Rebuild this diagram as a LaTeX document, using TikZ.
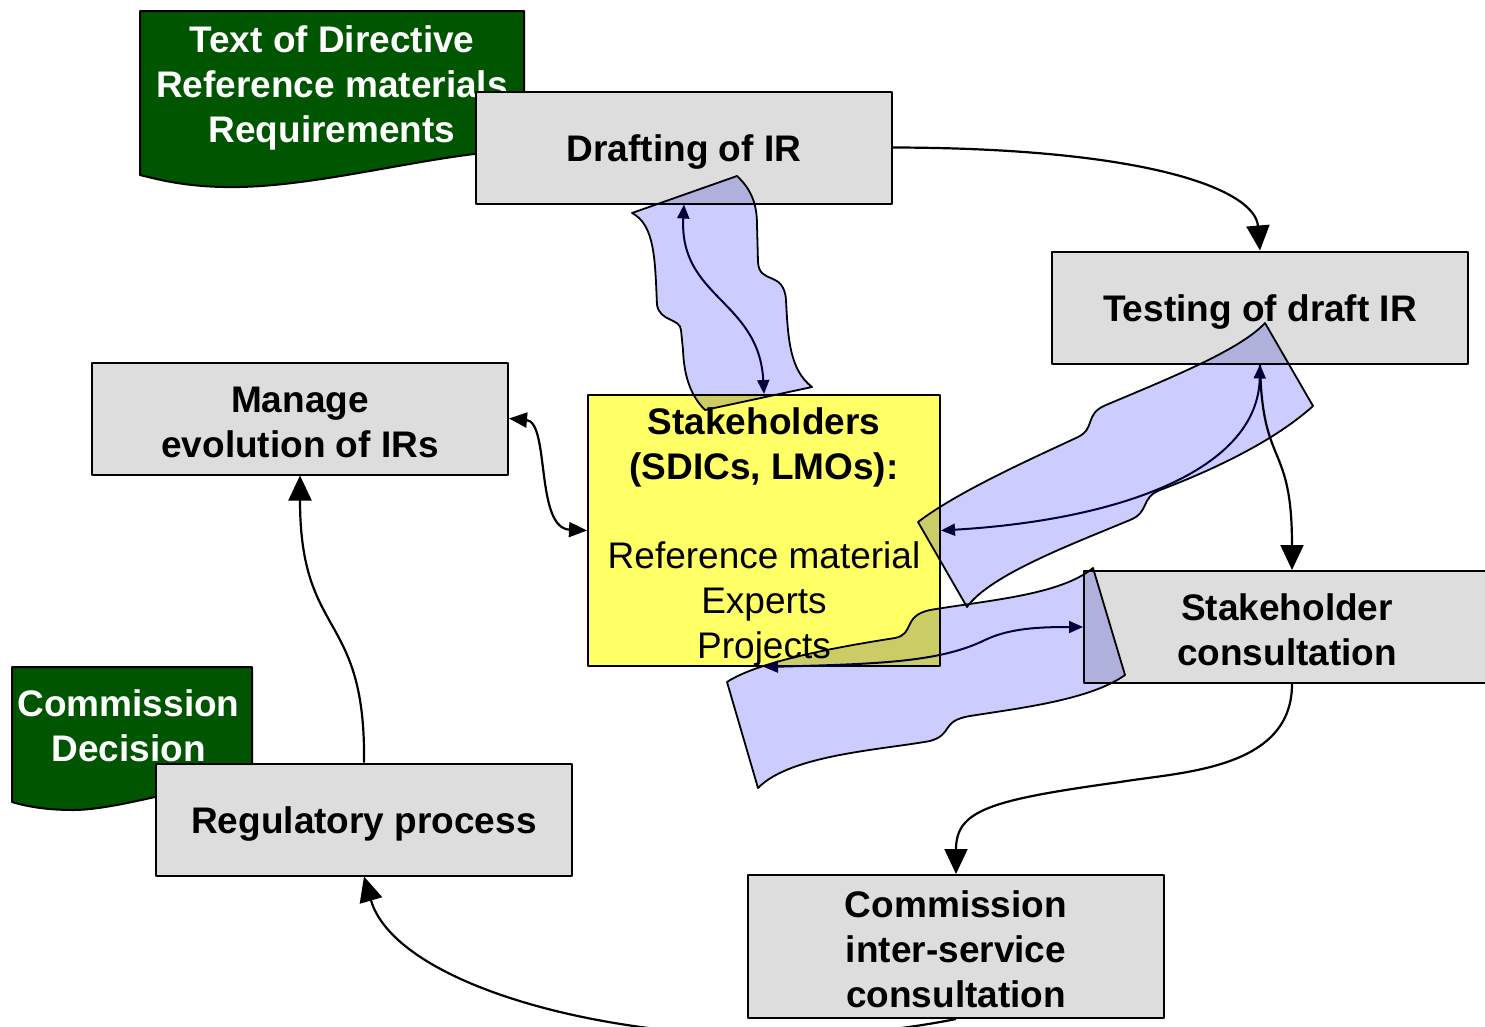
\documentclass[tikz,border=0pt]{standalone}
\usepackage{fontspec}
\setmainfont{Liberation Sans}
\usetikzlibrary{arrows.meta}
\definecolor{boxgray}{RGB}{221,221,221}
\definecolor{docgreen}{RGB}{0,85,0}
\definecolor{stakeyellow}{RGB}{255,255,102}
\definecolor{ribboncol}{RGB}{204,204,255}
\definecolor{navyline}{RGB}{0,0,60}
\newcommand{\highstrut}{\rule{0pt}{33pt}}
\begin{document}
\begin{tikzpicture}[x=1pt,y=-1pt,line join=round,
  graybox/.style={draw=black,line width=2pt,fill=boxgray,font=\bfseries\fontsize{37pt}{45pt}\selectfont,align=center,minimum width=416pt,minimum height=112pt,inner sep=0pt},
  oneline/.style={text height=27pt,text depth=0pt},
  yellowbox/.style={draw=black,line width=2pt,fill=stakeyellow,minimum width=352pt,minimum height=271pt,inner sep=0pt},
  plaintext/.style={font=\fontsize{37pt}{45pt}\selectfont,align=center,inner sep=0pt},
  doctext/.style={text=white,font=\bfseries\fontsize{37pt}{45pt}\selectfont,align=center,inner sep=0pt},
  docshape/.style={draw=black,line width=2pt,fill=docgreen},
  conn/.style={draw=black,line width=2.2pt},
  bigarrow/.style={-{Triangle[length=25pt,width=23pt]}},
  midboth/.style={{Triangle[length=18pt,width=15pt]}-{Triangle[length=18pt,width=15pt]}},
  navyconn/.style={draw=navyline,line width=2pt,{Triangle[length=14pt,width=12pt]}-{Triangle[length=14pt,width=12pt]}},
  ribbonshape/.style={draw=black,line width=1.8pt,fill=ribboncol}
]
\useasboundingbox (0,0) rectangle (1485,1026);
\fill[white] (0,0) rectangle (1485,1026);
\clip (0,0) rectangle (1485,1026);

% document shapes
\filldraw[docshape] (140,11) -- (524,11) -- (524,150) .. controls (440,152) and (330,185) .. (240,187) .. controls (190,188) and (160,180) .. (140,175) -- cycle;
\node[doctext] (dirtext) at (332,87.5) {Text of Directive\\Reference materials\\Requirements};

\filldraw[docshape] (12,667) -- (252,667) -- (252,780) .. controls (200,782) and (120,810) .. (73,810) .. controls (45,810) and (25,806) .. (12,802) -- cycle;
\node[doctext] (dectext) at (128.5,725.5) {Commission\\Decision};

% boxes
\node[graybox,oneline] (draft) at (684,147.5) {Drafting of IR};
\node[graybox,oneline] (test) at (1260,307.5) {Testing of draft IR};
\node[graybox] (manage) at (300,418.5) {\highstrut Manage\\evolution of IRs};
\node[yellowbox] (stake) at (764,530.5) {};
\node[plaintext] (staketext) at (764,536.5) {\textbf{Stakeholders}\\\textbf{(SDICs, LMOs):}\\[44pt]Reference material\\Experts\\Projects};
\node[graybox,minimum width=406pt] (sc) at (1287,627) {\highstrut Stakeholder\\consultation};
\node[graybox,oneline] (reg) at (364,819.5) {Regulatory process};
\node[graybox,minimum height=143pt] (isc) at (956,946.5) {\highstrut Commission\\inter-service\\consultation};

% black connectors
\draw[conn,bigarrow] (draft.east) .. controls (1150,148) and (1255,190) .. (test.north);
\draw[conn,bigarrow] (test.south) .. controls (1262,470) and (1292,440) .. ([xshift=5pt]sc.north);
\draw[conn,midboth] (manage.east) .. controls (550,422) and (535,528) .. (stake.west);
\draw[conn,bigarrow] (reg.north) .. controls (366,610) and (300,640) .. (manage.south);
\draw[conn,bigarrow] ([xshift=5pt]sc.south) .. controls (1292,770) and (1180,772) .. (1120,782) .. controls (990,800) and (956,810) .. (isc.north);
\draw[conn,bigarrow] (isc.south) .. controls (700,1070) and (400,1000) .. (reg.south);

% ribbons
\begin{scope}[blend mode=multiply]
\filldraw[ribbonshape] (632,213) -- (737,176) .. controls (752,190) and (757,205) .. (757,225) -- (758,262) .. controls (759,285) and (784,270) .. (786,300) .. controls (788,340) and (790,370) .. (812,387) -- (705,410) .. controls (690,395) and (684,375) .. (683,350) -- (681,330) .. controls (680,318) and (660,322) .. (657,305) .. controls (655,260) and (655,225) .. (632,213) -- cycle;
\filldraw[ribbonshape] (918,522) .. controls (960,490) and (1040,455) .. (1078,437) .. controls (1096,428) and (1084,414) .. (1106,405) .. controls (1170,378) and (1240,350) .. (1265,323) -- (1313,406) .. controls (1270,445) and (1200,475) .. (1160,490) .. controls (1140,498) and (1150,512) .. (1130,520) .. controls (1070,545) and (990,575) .. (967,607) -- cycle;
\filldraw[ribbonshape] (727,682) .. controls (760,660) and (850,645) .. (895,638) .. controls (915,634) and (902,616) .. (930,610) .. controls (990,600) and (1060,595) .. (1093,568) -- (1125,675) .. controls (1090,700) and (1020,708) .. (970,716) .. controls (940,721) and (954,734) .. (930,741) .. controls (880,750) and (790,755) .. (758,788) -- cycle;
\end{scope}

% navy connectors
\draw[navyconn] (draft.south) .. controls (679,298) and (759,300) .. (stake.north);
\draw[navyconn] (stake.east) .. controls (1120,520) and (1258,470) .. (test.south);
\draw[navyconn] (stake.south) .. controls (880,664) and (940,662) .. (985,640) .. controls (1010,628) and (1040,627) .. (sc.west);
\end{tikzpicture}
\end{document}
